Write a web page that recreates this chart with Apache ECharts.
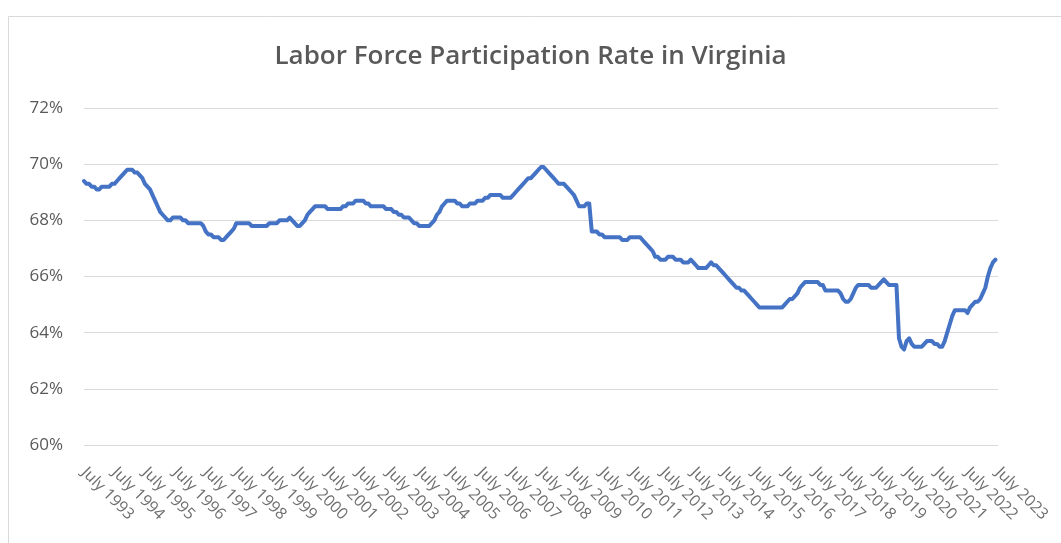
<!DOCTYPE html>
<html>
<head>
<meta charset="utf-8">
<script src="https://cdn.jsdelivr.net/npm/echarts@6/dist/echarts.min.js"></script>
<style>
    html, body { margin: 0; padding: 0; background: #fff; }
    #lfpr-chart { width: 1061px; height: 543px; }
</style>
</head>
<body>
<div id="lfpr-chart"></div>
<script>
// 每行一年：从当年7月到次年6月
var years = [];
for (var y = 1993; y <= 2023; y++) {
    years.push(y);
}
var monthNames = ['July', 'August', 'September', 'October', 'November', 'December',
    'January', 'February', 'March', 'April', 'May', 'June'];

var rates = [
    69.4, 69.3, 69.3, 69.2, 69.2, 69.1, 69.1, 69.2, 69.2, 69.2, 69.2, 69.3,
    69.3, 69.4, 69.5, 69.6, 69.7, 69.8, 69.8, 69.8, 69.7, 69.7, 69.6, 69.5,
    69.3, 69.2, 69.1, 68.9, 68.7, 68.5, 68.3, 68.2, 68.1, 68.0, 68.0, 68.1,
    68.1, 68.1, 68.1, 68.0, 68.0, 67.9, 67.9, 67.9, 67.9, 67.9, 67.9, 67.8,
    67.6, 67.5, 67.5, 67.4, 67.4, 67.4, 67.3, 67.3, 67.4, 67.5, 67.6, 67.7,
    67.9, 67.9, 67.9, 67.9, 67.9, 67.9, 67.8, 67.8, 67.8, 67.8, 67.8, 67.8,
    67.8, 67.9, 67.9, 67.9, 67.9, 68.0, 68.0, 68.0, 68.0, 68.1, 68.0, 67.9,
    67.8, 67.8, 67.9, 68.0, 68.2, 68.3, 68.4, 68.5, 68.5, 68.5, 68.5, 68.5,
    68.4, 68.4, 68.4, 68.4, 68.4, 68.4, 68.5, 68.5, 68.6, 68.6, 68.6, 68.7,
    68.7, 68.7, 68.7, 68.6, 68.6, 68.5, 68.5, 68.5, 68.5, 68.5, 68.5, 68.4,
    68.4, 68.4, 68.3, 68.3, 68.2, 68.2, 68.1, 68.1, 68.1, 68.0, 67.9, 67.9,
    67.8, 67.8, 67.8, 67.8, 67.8, 67.9, 68.0, 68.2, 68.3, 68.5, 68.6, 68.7,
    68.7, 68.7, 68.7, 68.6, 68.6, 68.5, 68.5, 68.5, 68.6, 68.6, 68.6, 68.7,
    68.7, 68.7, 68.8, 68.8, 68.9, 68.9, 68.9, 68.9, 68.9, 68.8, 68.8, 68.8,
    68.8, 68.9, 69.0, 69.1, 69.2, 69.3, 69.4, 69.5, 69.5, 69.6, 69.7, 69.8,
    69.9, 69.9, 69.8, 69.7, 69.6, 69.5, 69.4, 69.3, 69.3, 69.3, 69.2, 69.1,
    69.0, 68.9, 68.7, 68.5, 68.5, 68.5, 68.6, 68.6, 67.6, 67.6, 67.6, 67.5,
    67.5, 67.4, 67.4, 67.4, 67.4, 67.4, 67.4, 67.4, 67.3, 67.3, 67.3, 67.4,
    67.4, 67.4, 67.4, 67.4, 67.3, 67.2, 67.1, 67.0, 66.9, 66.7, 66.7, 66.6,
    66.6, 66.6, 66.7, 66.7, 66.7, 66.6, 66.6, 66.6, 66.5, 66.5, 66.5, 66.6,
    66.5, 66.4, 66.3, 66.3, 66.3, 66.3, 66.4, 66.5, 66.4, 66.4, 66.3, 66.2,
    66.1, 66.0, 65.9, 65.8, 65.7, 65.6, 65.6, 65.5, 65.5, 65.4, 65.3, 65.2,
    65.1, 65.0, 64.9, 64.9, 64.9, 64.9, 64.9, 64.9, 64.9, 64.9, 64.9, 64.9,
    65.0, 65.1, 65.2, 65.2, 65.3, 65.4, 65.6, 65.7, 65.8, 65.8, 65.8, 65.8,
    65.8, 65.8, 65.7, 65.7, 65.5, 65.5, 65.5, 65.5, 65.5, 65.5, 65.4, 65.2,
    65.1, 65.1, 65.2, 65.4, 65.6, 65.7, 65.7, 65.7, 65.7, 65.7, 65.6, 65.6,
    65.6, 65.7, 65.8, 65.9, 65.8, 65.7, 65.7, 65.7, 65.7, 63.8, 63.5, 63.4,
    63.7, 63.8, 63.6, 63.5, 63.5, 63.5, 63.5, 63.6, 63.7, 63.7, 63.7, 63.6,
    63.6, 63.5, 63.5, 63.7, 64.0, 64.3, 64.6, 64.8, 64.8, 64.8, 64.8, 64.8,
    64.7, 64.9, 65.0, 65.1, 65.1, 65.2, 65.4, 65.6, 66.0, 66.3, 66.5, 66.6
];

var yTicks = [60, 62, 64, 66, 68, 70, 72];

// 月份类目，7月显示标签
var months = [];
years.forEach(function (year) {
    monthNames.forEach(function (name, m) {
        if (year === 2023 && m > 0) {
            return;
        }
        var realYear = m < 6 ? year : year + 1;
        months.push(name + ' ' + realYear);
    });
});

function showChart() {
    var chart = echarts.init(document.getElementById('lfpr-chart'));
    chart.setOption({
        animation: false,
        title: {
            text: 'Labor Force Participation Rate in Virginia',
            left: 'center',
            top: 39,
            textStyle: {
                fontFamily: 'Open Sans',
                fontSize: 26,
                fontWeight: 600,
                color: '#595959'
            }
        },
        graphic: [
            {
                type: 'rect',
                shape: { x: 8.5, y: 16.5, width: 1070, height: 560 },
                style: { fill: 'none', stroke: '#d9d9d9', lineWidth: 1 },
                silent: true
            }
        ],
        grid: {
            left: 84,
            right: 63,
            top: 108,
            bottom: 98
        },
        xAxis: {
            type: 'category',
            boundaryGap: false,
            data: months,
            axisLine: { show: false },
            axisTick: { show: false },
            axisLabel: {
                rotate: -45,
                margin: 25,
                fontFamily: 'Open Sans',
                fontSize: 16,
                color: '#6e6e6e',
                interval: function (index, value) {
                    return value.indexOf('July') === 0;
                }
            }
        },
        yAxis: {
            type: 'value',
            min: yTicks[0],
            max: yTicks[yTicks.length - 1],
            interval: 2,
            axisLine: { show: false },
            axisTick: { show: false },
            axisLabel: {
                margin: 21,
                fontFamily: 'Open Sans',
                fontSize: 17,
                color: '#595959',
                formatter: '{value}%'
            },
            splitLine: {
                lineStyle: { color: '#d9d9d9', width: 1 }
            }
        },
        series: {
            name: 'LFPR',
            type: 'line',
            data: rates,
            showSymbol: false,
            lineStyle: { color: '#4472c4', width: 4, join: 'round', cap: 'round' }
        }
    });
}

showChart();
</script>
</body>
</html>
